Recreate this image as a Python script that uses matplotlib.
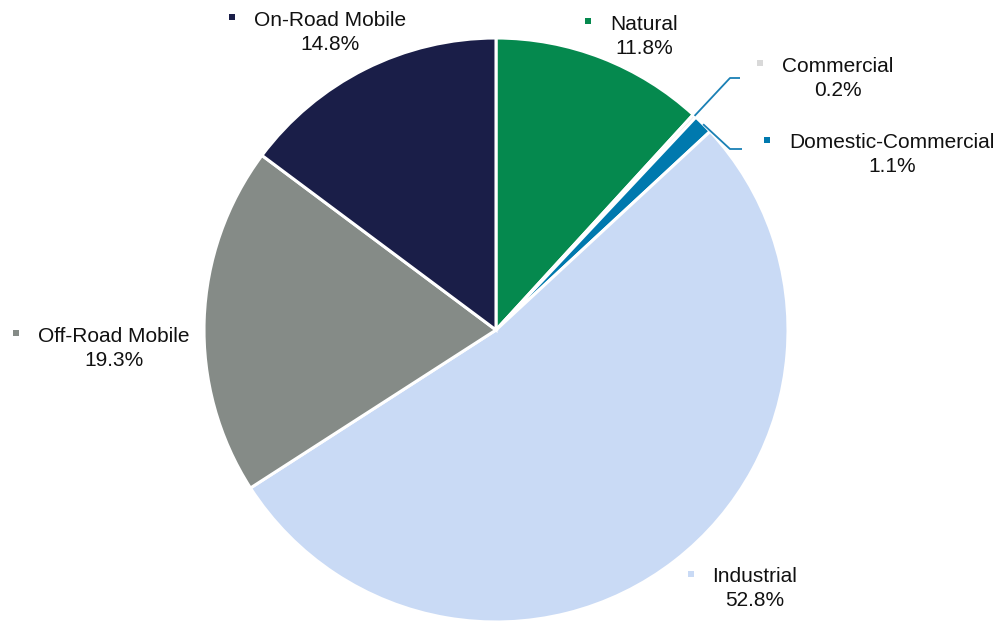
import numpy as np
import matplotlib
matplotlib.use("Agg")
import matplotlib.pyplot as plt

plt.rcParams['font.family'] = ['Liberation Sans', 'DejaVu Sans']

# data
labels = ['Natural', 'Commercial', 'Domestic-Commercial', 'Industrial',
          'Off-Road Mobile', 'On-Road Mobile']
shares = [11.8, 0.2, 1.1, 52.8, 19.3, 14.8]
colors = ['#05894e', '#d9d9d9', '#0079ae', '#c9daf5', '#858b87', '#1a1e48']

# label anchor (centre of name text) in pixel coords, y measured from top
label_pos = {
    'Natural': (644, 24),
    'Commercial': (838, 66),
    'Domestic-Commercial': (892, 143),
    'Industrial': (755, 577),
    'Off-Road Mobile': (114, 336),
    'On-Road Mobile': (330, 20),
}
W, H = 999, 625
cx, cy, R = 496, 330, 292

fig = plt.figure(figsize=(W / 100, H / 100), dpi=100)
ax = fig.add_axes([0, 0, 1, 1])
ax.set_xlim(0, W)
ax.set_ylim(0, H)
ax.axis('off')

wedges, _ = ax.pie(shares, colors=colors, startangle=90, counterclock=False,
                   center=(cx, H - cy), radius=R,
                   wedgeprops=dict(edgecolor='white', linewidth=2.2))
ax.set_xlim(0, W)
ax.set_ylim(0, H)
ax.set_aspect('equal')

fs = 15
for lab, val, col in zip(labels, shares, colors):
    x, y = label_pos[lab]
    yy = H - y
    t = ax.text(x, yy, lab, ha='center', va='center', fontsize=fs, color='#111111')
    ax.text(x, yy - 24, f'{val:.1f}%', ha='center', va='center', fontsize=fs,
            color='#111111')
    # small square legend key left of the name
    fig.canvas.draw() if lab == labels[0] else None
    bb = t.get_window_extent(renderer=fig.canvas.get_renderer())
    ax.plot(bb.x0 - 22, yy + 3, marker='s', markersize=4.5, color=col,
            markeredgewidth=0, linestyle='none')

# leader lines for the two thin slices
cum = np.cumsum([0] + shares)
leader_ends = {'Commercial': (730, 78, 740), 'Domestic-Commercial': (730, 149, 742)}
for i, lab in enumerate(labels):
    if lab not in leader_ends:
        continue
    mid = (cum[i] + cum[i + 1]) / 2 / 100 * 2 * np.pi
    sx = cx + R * np.sin(mid)
    sy = H - (cy - R * np.cos(mid))
    ex, ey, ex2 = leader_ends[lab]
    ax.plot([sx, ex, ex2], [sy, H - ey, H - ey], color='#1a80b5', lw=1.3,
            solid_capstyle='butt')

fig.savefig('out.png', dpi=100)
